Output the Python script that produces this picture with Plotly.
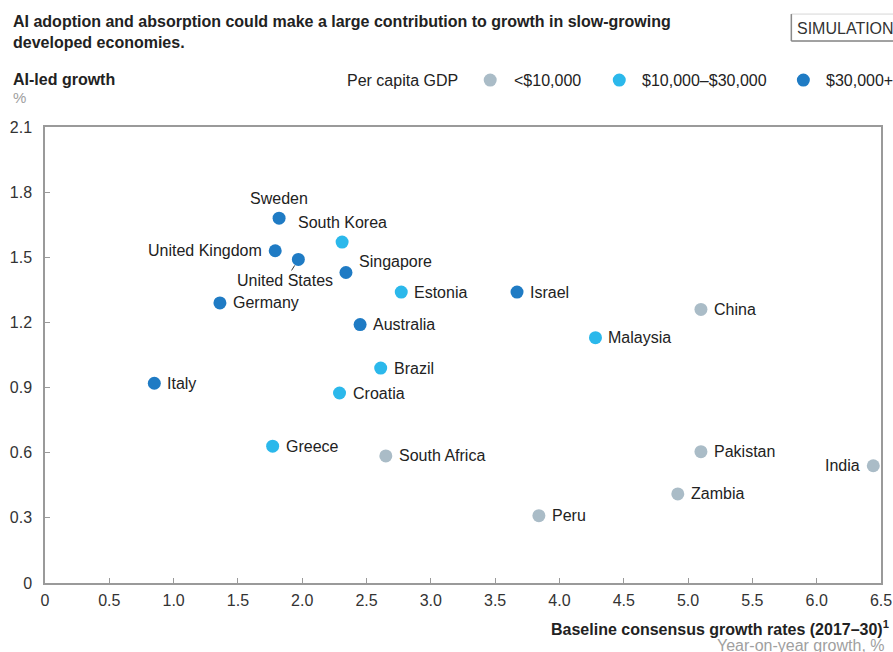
import plotly.graph_objects as go

# ---------------- data ----------------
countries = ["Sweden", "South Korea", "United Kingdom", "United States", "Singapore",
             "Estonia", "Israel", "Germany", "Australia", "China", "Malaysia",
             "Brazil", "Croatia", "Italy", "Greece", "South Africa", "Pakistan",
             "India", "Zambia", "Peru"]
baseline_growth = [1.82, 2.31, 1.79, 1.97, 2.34, 2.77, 3.67, 1.36, 2.45, 5.10, 4.28,
                   2.61, 2.29, 0.85, 1.77, 2.65, 5.10, 6.44, 4.92, 3.84]
ai_growth = [1.68, 1.57, 1.53, 1.49, 1.43, 1.34, 1.34, 1.29, 1.19, 1.26, 1.13,
             0.99, 0.875, 0.92, 0.63, 0.585, 0.605, 0.54, 0.41, 0.31]
income_group = ["$30,000+", "$10,000–$30,000", "$30,000+", "$30,000+", "$30,000+",
                "$10,000–$30,000", "$30,000+", "$30,000+", "$30,000+", "<$10,000",
                "$10,000–$30,000", "$10,000–$30,000", "$10,000–$30,000", "$30,000+",
                "$10,000–$30,000", "<$10,000", "<$10,000", "<$10,000", "<$10,000",
                "<$10,000"]
groups = ["<$10,000", "$10,000–$30,000", "$30,000+"]

x_tickvals = [0, 0.5, 1.0, 1.5, 2.0, 2.5, 3.0, 3.5, 4.0, 4.5, 5.0, 5.5, 6.0, 6.5]
x_ticktext = ["0", "0.5", "1.0", "1.5", "2.0", "2.5", "3.0", "3.5", "4.0", "4.5",
              "5.0", "5.5", "6.0", "6.5"]
y_tickvals = [0, 0.3, 0.6, 0.9, 1.2, 1.5, 1.8, 2.1]
y_ticktext = ["0", "0.3", "0.6", "0.9", "1.2", "1.5", "1.8", "2.1"]

title_text = ("AI adoption and absorption could make a large contribution to growth in slow-growing"
              "<br>developed economies.")
y_title = "AI-led growth"
y_unit = "%"
x_title = "Baseline consensus growth rates (2017–30)<sup>1</sup>"
x_unit = "Year-on-year growth, %"
legend_title = "Per capita GDP"
badge_text = "SIMULATION"

# ---------------- style ----------------
FONT = "Liberation Sans, Arial, sans-serif"
COLORS = {"<$10,000": "#AABCC7", "$10,000–$30,000": "#2BB8EB", "$30,000+": "#1F7BC4"}
AXIS_COLOR = "#9a9a9a"
TEXT = "#222222"

# label placement: (xanchor, xshift, yshift)
placement = {
    "Sweden": ("center", 0, 20),
    "South Korea": ("center", 0, 20),
    "United Kingdom": ("right", -11, 0),
    "Singapore": ("left", 11, 11),
    "India": ("right", -11, 0),
}

W, H = 893, 652
L, R, T, B = 45, 12.4, 127, 68.7
PW, PH = W - L - R, H - T - B


def px(x):
    """screen x pixel -> paper coordinate"""
    return (x - L) / PW


def py(y):
    """screen y pixel -> paper coordinate"""
    return (H - B - y) / PH


fig = go.Figure()
for g in groups:
    xs = [x for x, gg in zip(baseline_growth, income_group) if gg == g]
    ys = [y for y, gg in zip(ai_growth, income_group) if gg == g]
    names = [c for c, gg in zip(countries, income_group) if gg == g]
    fig.add_trace(go.Scatter(
        x=xs, y=ys, mode="markers", name=g, text=names,
        marker=dict(size=13, color=COLORS[g], line=dict(width=0)),
        hovertemplate="%{text}<br>%{x}, %{y}<extra></extra>",
        showlegend=False,
    ))

annotations = []
for c, x, y in zip(countries, baseline_growth, ai_growth):
    if c == "United States":
        annotations.append(dict(
            x=x, y=y, xref="x", yref="y", text=c, showarrow=True,
            ax=-13, ay=21, arrowhead=0, arrowwidth=1, arrowcolor="#333",
            standoff=7, font=dict(family=FONT, size=16, color=TEXT)))
        continue
    xa, xs_, ys_ = placement.get(c, ("left", 11, 0))
    annotations.append(dict(
        x=x, y=y, xref="x", yref="y", text=c, showarrow=False,
        xanchor=xa, yanchor="middle", xshift=xs_, yshift=ys_,
        font=dict(family=FONT, size=16, color=TEXT)))

# title & axis texts
annotations += [
    dict(x=px(11), y=py(11), xref="paper", yref="paper", text="<b>" + title_text + "</b>",
         showarrow=False, xanchor="left", yanchor="top", align="left",
         font=dict(family=FONT, size=16, color=TEXT)),
    dict(x=px(11), y=py(79), xref="paper", yref="paper", text="<b>" + y_title + "</b>",
         showarrow=False, xanchor="left", yanchor="middle",
         font=dict(family=FONT, size=16, color=TEXT)),
    dict(x=px(11), y=py(97), xref="paper", yref="paper", text=y_unit,
         showarrow=False, xanchor="left", yanchor="middle",
         font=dict(family=FONT, size=15, color="#a0a0a0")),
    dict(x=px(891), y=py(628), xref="paper", yref="paper", text="<b>" + x_title + "</b>",
         showarrow=False, xanchor="right", yanchor="middle",
         font=dict(family=FONT, size=16, color=TEXT)),
    dict(x=px(887), y=py(646), xref="paper", yref="paper", text=x_unit,
         showarrow=False, xanchor="right", yanchor="middle",
         font=dict(family=FONT, size=16, color="#a0a0a0")),
    dict(x=px(345), y=py(80), xref="paper", yref="paper", text=legend_title,
         showarrow=False, xanchor="left", yanchor="middle",
         font=dict(family=FONT, size=16, color=TEXT)),
    dict(x=px(795), y=py(28), xref="paper", yref="paper", text=badge_text,
         showarrow=False, xanchor="left", yanchor="middle",
         font=dict(family=FONT, size=16, color="#333")),
]

shapes = []
# legend markers + labels
legend_marker_px = [490, 619, 803]
legend_text_px = [512, 640, 824]
for g, mx, tx in zip(groups, legend_marker_px, legend_text_px):
    shapes.append(dict(type="circle", xref="paper", yref="paper",
                       xsizemode="pixel", ysizemode="pixel",
                       xanchor=px(mx), yanchor=py(80),
                       x0=-6.5, x1=6.5, y0=-6.5, y1=6.5,
                       fillcolor=COLORS[g], line=dict(width=0)))
    annotations.append(dict(x=px(tx), y=py(80), xref="paper", yref="paper", text=g,
                            showarrow=False, xanchor="left", yanchor="middle",
                            font=dict(family=FONT, size=16, color=TEXT)))

# SIMULATION badge box
shapes += [
    dict(type="rect", xref="paper", yref="paper", x0=px(791), x1=px(905),
         y0=py(41), y1=py(14), line=dict(color="#d6d6d6", width=1)),
    dict(type="line", xref="paper", yref="paper", x0=px(791), x1=px(791),
         y0=py(41), y1=py(14), line=dict(color="#8a8a8a", width=1.5)),
    dict(type="line", xref="paper", yref="paper", x0=px(791), x1=px(905),
         y0=py(41), y1=py(41), line=dict(color="#8a8a8a", width=1.5)),
]

axis_common = dict(
    showline=True, mirror=True, linecolor=AXIS_COLOR, linewidth=1.5,
    ticks="inside", ticklen=5, tickcolor=AXIS_COLOR, tickwidth=1,
    showgrid=False, zeroline=False, automargin=False,
    tickfont=dict(family=FONT, size=16, color="#333"),
)

fig.update_layout(
    template="none",
    width=W, height=H,
    margin=dict(l=L, r=R, t=T, b=B, autoexpand=False),
    paper_bgcolor="white", plot_bgcolor="white",
    xaxis=dict(range=[0, 6.5], tickvals=x_tickvals, ticktext=x_ticktext,
               ticklabelstandoff=2, **axis_common),
    yaxis=dict(range=[0, 2.1], tickvals=y_tickvals, ticktext=y_ticktext,
               ticklabelstandoff=8, **axis_common),
    annotations=annotations,
    shapes=shapes,
    font=dict(family=FONT, size=16, color=TEXT),
)

fig.write_html("out.html",
               config={"displayModeBar": False},
               post_script="document.body.style.margin='0px';"
                           "document.body.style.overflow='hidden';")
